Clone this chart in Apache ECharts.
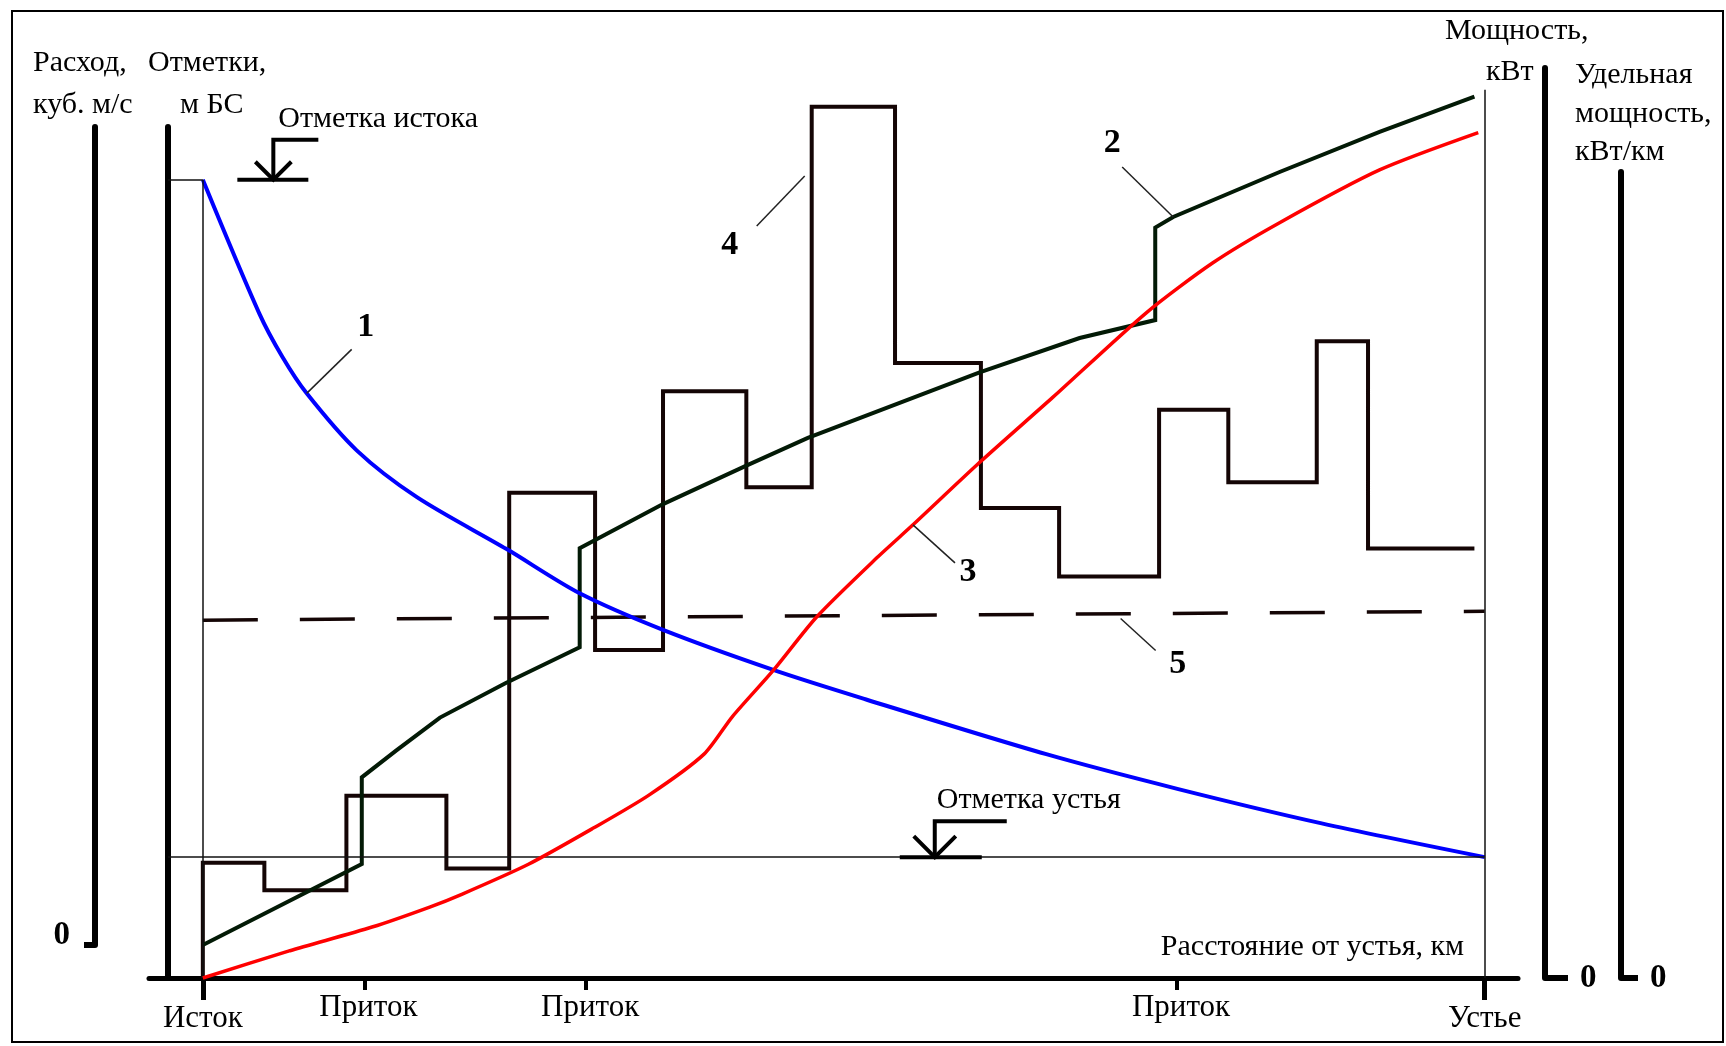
<!DOCTYPE html>
<html>
<head>
<meta charset="utf-8">
<title>Энергетический профиль реки</title>
<script src="https://cdn.jsdelivr.net/npm/echarts@6/dist/echarts.min.js"></script>
<style>
  html, body { margin: 0; padding: 0; background: #fff; }
  #chart { width: 1726px; height: 1046px; }
</style>
</head>
<body>
<div id="chart"></div>
<script>
// Distance along the river, km from the mouth (river length taken as 100 km)
const sourceKm = 100;
const mouthKm = 0;
const tributaryKm = [87.4, 70.1, 24.0];
const tickNames = { source: 'Исток', tributary: 'Приток', mouth: 'Устье' };

// 1 — water-surface elevation profile, m BS (relative units)
const elevKm = [100, 95.6, 93.8, 91.9, 88.0, 83.3, 76.3, 70.6, 64.1, 55.5, 48.2, 34.2, 23.9, 12.8, 0];
const elevM  = [93.8, 78.1, 73.0, 68.7, 62.0, 56.5, 50.4, 45.2, 40.9, 36.2, 32.7, 26.3, 22.2, 18.2, 14.2];

// 2 — discharge, m3/s (relative units); steps where tributaries join
const flowKm = [100, 87.6, 87.6, 84.9, 81.5, 76.4, 70.6, 70.6, 64.1, 57.6, 52.8, 39.4, 31.6, 25.7, 25.7, 24.3, 16.0, 8.2, 0.8];
const flowQ  = [0, 9.9, 20.5, 23.8, 27.8, 32.0, 36.4, 48.5, 53.9, 58.6, 62.0, 70.0, 74.2, 76.4, 87.7, 89.0, 94.5, 99.4, 103.7];

// 3 — cumulative power, kW (relative units)
const powerKm = [100, 93.2, 86.8, 82.3, 79.8, 74.6, 69.5, 65.2, 60.9, 58.7, 55.5, 52.1, 47.4, 44.6, 39.6, 33.7, 26.4, 21.2, 16.0, 8.2, 0.5];
const powerKW = [0, 3.0, 5.6, 7.8, 9.2, 12.5, 16.5, 20.1, 24.6, 28.7, 33.8, 39.7, 46.2, 49.8, 56.4, 63.8, 73.1, 78.6, 83.0, 88.8, 92.9];

// 4 — specific power per reach, kW/km (reach boundaries and one level per reach)
const reachKm = [100, 95.2, 88.8, 81.0, 76.1, 69.4, 64.1, 57.6, 52.5, 46.0, 39.3, 33.2, 25.4, 20.0, 13.1, 9.1, 0.8];
const reachKWkm = [14.3, 10.9, 22.6, 13.6, 60.2, 40.7, 72.8, 60.9, 108.1, 76.3, 58.3, 49.8, 70.5, 61.5, 79.0, 53.3];

// 5 — mean specific power, kW/km
const meanKm = [100, 0];
const meanKWkm = [44.4, 45.5];

// Where the level marks stand along the river
const sourceMarkKm = 94.5;
const mouthMarkKm = 42.9;
const frameTopKW = 97.6;

const FONT = '"Liberation Serif", "Times New Roman", serif';
const INK = '#000';

const X_MIN = -2.6, X_MAX = 104.2, GRID_L = 149, GRID_R = 208;
const pxPerKm = (1726 - GRID_L - GRID_R) / (X_MAX - X_MIN);
const elevAxisOffset = -19;
const elevAxisKm = X_MAX + elevAxisOffset / pxPerKm;

const pairs = (xs, ys) => xs.map((x, i) => [x, ys[i]]);

const specificData = [[reachKm[0], 0]];
reachKWkm.forEach((v, i) => specificData.push([reachKm[i], v]));
specificData.push([reachKm[reachKm.length - 1], reachKWkm[reachKWkm.length - 1]]);

const hiddenX = g => ({ type: 'value', gridIndex: g, inverse: true, min: X_MIN, max: X_MAX, show: false });
const axisFont = { fontFamily: FONT, fontSize: 31, color: INK };
const zeroFont = { fontFamily: FONT, fontSize: 33, fontWeight: 'bold', color: INK };

const thin = { color: '#111', width: 1.5, type: 'solid' };

const chart = echarts.init(document.getElementById('chart'));

chart.setOption({
  animation: false,
  backgroundColor: '#fff',
  grid: [
    { left: GRID_L, right: GRID_R, top: 127, bottom: 68 },  // elevations + distance axis
    { left: GRID_L, right: GRID_R, top: 127, bottom: 101 }, // discharge
    { left: GRID_L, right: GRID_R, top: 68, bottom: 68 },   // power
    { left: GRID_L, right: GRID_R, top: 172, bottom: 68 }   // specific power
  ],
  xAxis: [
    {
      type: 'value', gridIndex: 0, inverse: true, min: X_MIN, max: X_MAX, position: 'bottom',
      axisLine: { show: true, onZero: false, lineStyle: { color: INK, width: 5 } },
      axisTick: { show: true, customValues: [sourceKm, mouthKm], length: 22, lineStyle: { color: INK, width: 5 } },
      axisLabel: {
        show: true, customValues: [sourceKm, mouthKm], margin: 25,
        formatter: v => (v === sourceKm ? tickNames.source : tickNames.mouth), ...axisFont
      },
      splitLine: { show: false }
    },
    {
      type: 'value', gridIndex: 0, inverse: true, min: X_MIN, max: X_MAX, position: 'bottom',
      axisLine: { show: false },
      axisTick: { show: true, customValues: tributaryKm, length: 12, lineStyle: { color: INK, width: 4 } },
      axisLabel: {
        show: true, customValues: tributaryKm, margin: 14, padding: [0, 0, 0, 8],
        formatter: () => tickNames.tributary, ...axisFont
      },
      splitLine: { show: false }
    },
    hiddenX(1), hiddenX(2), hiddenX(3)
  ],
  yAxis: [
    {
      type: 'value', gridIndex: 0, position: 'left', offset: elevAxisOffset, min: 0, max: 100,
      axisLine: { show: true, onZero: false, lineStyle: { color: INK, width: 6 } },
      axisTick: { show: false }, axisLabel: { show: false }, splitLine: { show: false }
    },
    {
      type: 'value', gridIndex: 1, position: 'left', offset: 54, min: 0, max: 100,
      axisLine: { show: true, onZero: false, lineStyle: { color: INK, width: 6 } },
      axisTick: { show: true, customValues: [0], length: 11, lineStyle: { color: INK, width: 6 } },
      axisLabel: { show: true, customValues: [0], margin: 25, verticalAlign: 'bottom', lineHeight: 20, ...zeroFont },
      splitLine: { show: false }
    },
    {
      type: 'value', gridIndex: 2, position: 'right', offset: 27, min: 0, max: 100,
      axisLine: { show: true, onZero: false, lineStyle: { color: INK, width: 6 } },
      axisTick: { show: true, customValues: [0], length: 23, lineStyle: { color: INK, width: 6 } },
      axisLabel: { show: true, customValues: [0], margin: 35, ...zeroFont },
      splitLine: { show: false }
    },
    {
      type: 'value', gridIndex: 3, position: 'right', offset: 103, min: 0, max: 100,
      axisLine: { show: true, onZero: false, lineStyle: { color: INK, width: 6 } },
      axisTick: { show: true, customValues: [0], length: 17, lineStyle: { color: INK, width: 6 } },
      axisLabel: { show: true, customValues: [0], margin: 29, ...zeroFont },
      splitLine: { show: false }
    }
  ],
  series: [
    {
      name: 'Удельная мощность', type: 'line', xAxisIndex: 4, yAxisIndex: 3,
      data: specificData, step: 'end', symbol: 'none', clip: false, z: 2,
      lineStyle: { color: '#140505', width: 4, join: 'miter' }
    },
    {
      name: 'Средняя удельная мощность', type: 'line', xAxisIndex: 4, yAxisIndex: 3,
      data: pairs(meanKm, meanKWkm), symbol: 'none', clip: false, z: 2,
      lineStyle: { color: '#140505', width: 3.5, type: [55, 42] }
    },
    {
      name: 'Расход', type: 'line', xAxisIndex: 2, yAxisIndex: 1,
      data: pairs(flowKm, flowQ), symbol: 'none', clip: false, z: 3,
      lineStyle: { color: '#031a06', width: 4, join: 'miter' }
    },
    {
      name: 'Отметки', type: 'line', xAxisIndex: 0, yAxisIndex: 0,
      data: pairs(elevKm, elevM), symbol: 'none', smooth: 0.3, clip: false, z: 4,
      lineStyle: { color: '#0000ff', width: 4 },
      markLine: {
        silent: true, symbol: ['none', 'none'], label: { show: false }, lineStyle: thin,
        data: [
          [{ coord: [elevAxisKm, elevM[0]] }, { coord: [sourceKm, elevM[0]] }],
          [{ coord: [sourceKm, elevM[0]] }, { coord: [sourceKm, 0] }],
          [{ coord: [elevAxisKm, elevM[elevM.length - 1]] }, { coord: [mouthKm, elevM[elevM.length - 1]] }]
        ]
      }
    },
    {
      name: 'Мощность', type: 'line', xAxisIndex: 3, yAxisIndex: 2,
      data: pairs(powerKm, powerKW), symbol: 'none', smooth: 0.25, clip: false, z: 5,
      lineStyle: { color: '#ff0000', width: 3.5 },
      markLine: {
        silent: true, symbol: ['none', 'none'], label: { show: false }, lineStyle: thin,
        data: [[{ coord: [mouthKm, 0] }, { coord: [mouthKm, frameTopKW] }]]
      }
    }
  ]
});

// ---- annotations: titles, level marks, curve numbers ----
const at = (seriesIndex, km, v) => chart.convertToPixel({ seriesIndex }, [km, v]);
const gfx = [];
const text = (str, x, y, opts = {}) => gfx.push({
  type: 'text', silent: true, z: 50,
  style: {
    text: str, x, y, fill: INK, align: opts.align || 'left', verticalAlign: 'middle',
    font: opts.font || ('30px ' + FONT)
  }
});
const seg = (pts, width, color) => gfx.push({
  type: 'polyline', silent: true, z: 50,
  shape: { points: pts }, style: { stroke: color || INK, lineWidth: width, fill: null }
});

// outer frame
gfx.push({ type: 'rect', silent: true, z: 40, shape: { x: 12, y: 11, width: 1711, height: 1031 },
  style: { fill: null, stroke: INK, lineWidth: 2 } });

// axis titles
text('Расход,', 33, 63);
text('куб. м/с', 33, 105);
text('Отметки,', 148, 63);
text('м БС', 180, 105);
text('Мощность,', 1445, 31);
text('кВт', 1486, 72);
text('Удельная', 1575, 75);
text('мощность,', 1575, 114);
text('кВт/км', 1575, 152);
text('Расстояние от устья, км', 1464, 947, { align: 'right' });

// water-level marks
function levelMark([x, y], m, caption) {
  seg([[x - m.barL, y], [x + m.barR, y]], 4);
  seg([[x, y], [x, y - m.stem], [x + m.flag, y - m.stem]], 4);
  seg([[x - m.ax, y - m.ay], [x, y], [x + m.ax, y - m.ay]], 4);
  text(caption, x + m.tx, y + m.ty);
}
levelMark(at(3, sourceMarkKm, elevM[0]),
  { barL: 36, barR: 35, stem: 40, flag: 45, ax: 18, ay: 18, tx: 5, ty: -61 }, 'Отметка истока');
levelMark(at(3, mouthMarkKm, elevM[elevM.length - 1]),
  { barL: 35, barR: 47, stem: 36, flag: 72, ax: 21, ay: 21, tx: 2, ty: -57 }, 'Отметка устья');

// curve numbers with leaders
const callouts = [
  { label: '1', s: 3, km: 91.9, v: 68.7, from: [0, 0], to: [45, -44], t: [59, -66] },
  { label: '2', s: 2, km: 24.3, v: 89.0, from: [0, 0], to: [-51, -50], t: [-61, -74] },
  { label: '3', s: 4, km: 44.6, v: 49.8, from: [0, 0], to: [42, 38], t: [55, 47] },
  { label: '4', s: 0, km: 52.5, v: 99.5, from: [-7, 0], to: [-55, 50], t: [-82, 69] },
  { label: '5', s: 1, km: 28.4, v: 45.1, from: [0, 4], to: [35, 36], t: [57, 50] }
];
callouts.forEach(c => {
  const [x, y] = at(c.s, c.km, c.v);
  seg([[x + c.from[0], y + c.from[1]], [x + c.to[0], y + c.to[1]]], 1.5, '#222');
  text(c.label, x + c.t[0], y + c.t[1], { align: 'center', font: 'bold 34px ' + FONT });
});

chart.setOption({ graphic: gfx });
</script>
</body>
</html>
